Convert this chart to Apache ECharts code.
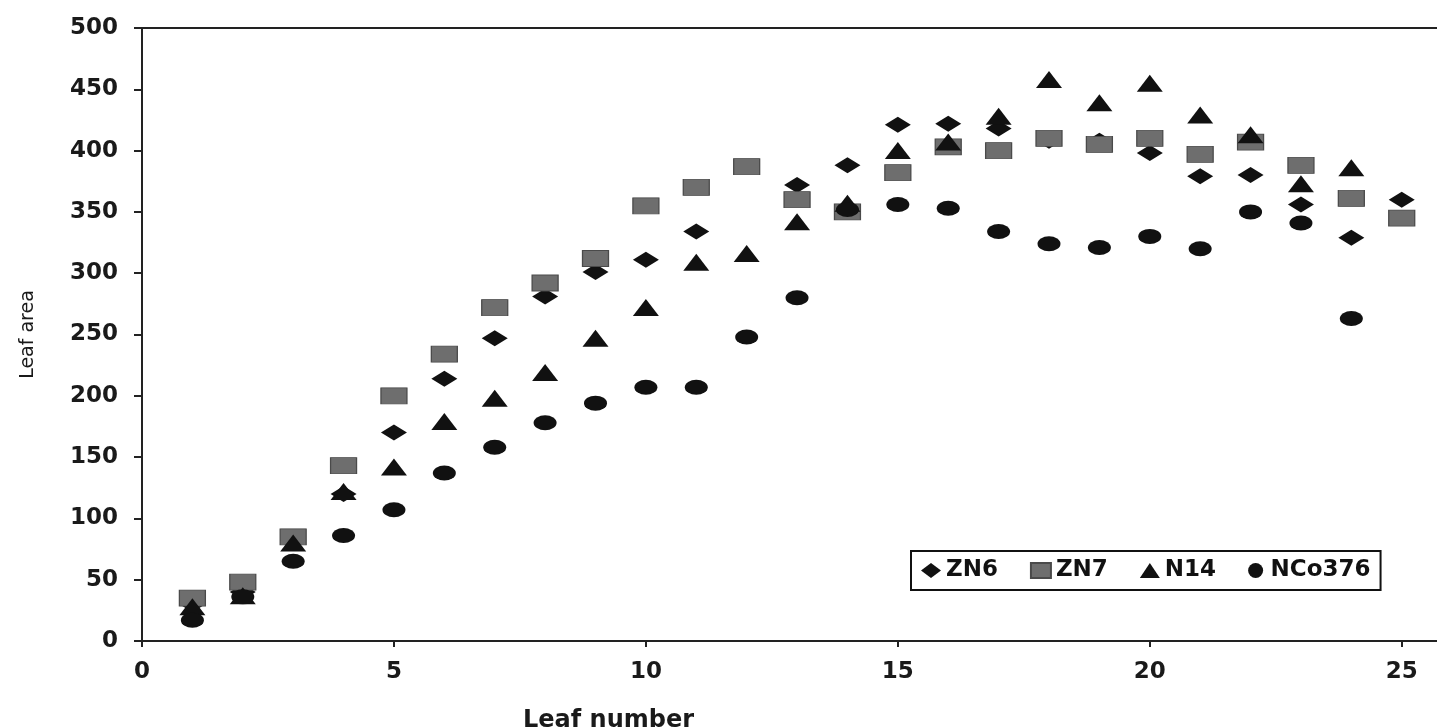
<!DOCTYPE html>
<html>
<head>
<meta charset="utf-8">
<script src="https://cdn.jsdelivr.net/npm/echarts@6/dist/echarts.min.js"></script>
<style>
  html, body { margin: 0; padding: 0; background: #fff; }
  #chart { width: 1437px; height: 727px; }
</style>
</head>
<body>
<div id="chart"></div>
<script>
// leaf number 1..25
const leafNumbers = [1, 2, 3, 4, 5, 6, 7, 8, 9, 10, 11, 12, 13, 14, 15, 16, 17, 18, 19, 20, 21, 22, 23, 24, 25];
const zn6 = [30, 40, 82, 120, 170, 214, 247, 281, 301, 311, 334, null, 372, 388, 421, 422, 418, 408, 408, 398, 379, 380, 356, 329, 360];
const zn7 = [35, 48, 85, 143, 200, 234, 272, 292, 312, 355, 370, 387, 360, 350, 382, 403, 400, 410, 405, 410, 397, 407, 388, 361, 345];
const n14 = [28, 37, 80, 122, 142, 179, 198, 219, 247, 272, 309, 316, 342, 357, 400, 407, 428, 458, 439, 455, 429, 413, 373, 386, null];
const nco376 = [17, 36, 65, 86, 107, 137, 158, 178, 194, 207, 207, 248, 280, 352, 356, 353, 334, 324, 321, 330, 320, 350, 341, 263, null];
const xTicks = [0, 5, 10, 15, 20, 25];

const pairs = (ys) => leafNumbers.map((x, i) => [x, ys[i]]).filter((p) => p[1] != null);

const chart = echarts.init(document.getElementById('chart'));
const axisFont = { fontFamily: 'DejaVu Sans', fontWeight: 'bold', fontSize: 23, color: '#1a1a1a' };
const lineStyle = { color: '#222', width: 2 };

const option = {
  backgroundColor: '#fff',
  animation: false,
  grid: { left: 142, right: 0, top: 28, bottom: 86, outerBoundsMode: 'none', containLabel: false },
  legend: {
    left: 911,
    top: 551,
    orient: 'horizontal',
    borderColor: '#111',
    borderWidth: 2,
    borderRadius: 0,
    padding: [8, 10],
    itemGap: 32,
    itemWidth: 20,
    itemHeight: 15,
    textStyle: { fontFamily: 'DejaVu Sans', fontWeight: 'bold', fontSize: 23, color: '#111' },
    data: [
      { name: 'ZN6', icon: 'diamond' },
      { name: 'ZN7', icon: 'rect' },
      { name: 'N14', icon: 'triangle' },
      { name: 'NCo376', icon: 'circle' },
    ],
  },
  xAxis: [
    {
      type: 'value',
      min: 0,
      max: 25.7,
      interval: 5,
      name: 'Leaf number',
      nameLocation: 'middle',
      nameGap: 68,
      nameTextStyle: { ...axisFont, fontSize: 24, padding: [0, 362, 0, 0] },
      axisLine: { show: true, lineStyle },
      axisTick: { show: true, length: 6, lineStyle, customValues: xTicks },
      axisLabel: { ...axisFont, margin: 20, customValues: xTicks },
      splitLine: { show: false },
    },
    {
      type: 'value',
      position: 'top',
      min: 0,
      max: 25.7,
      axisLine: { show: true, onZero: false, lineStyle },
      axisTick: { show: false },
      axisLabel: { show: false },
      splitLine: { show: false },
    },
  ],
  yAxis: {
    type: 'value',
    min: 0,
    max: 500,
    interval: 50,
    name: 'Leaf area',
    nameLocation: 'middle',
    nameGap: 104,
    nameTextStyle: { fontFamily: 'DejaVu Sans', fontSize: 19, color: '#1a1a1a' },
    axisLine: { show: true, lineStyle },
    axisTick: { show: true, length: 8, lineStyle },
    axisLabel: { ...axisFont, margin: 24 },
    splitLine: { show: false },
  },
  series: [
    {
      name: 'ZN6',
      type: 'scatter',
      symbol: 'diamond',
      symbolSize: [26, 16],
      itemStyle: { color: '#111', opacity: 1 },
      data: pairs(zn6),
    },
    {
      name: 'ZN7',
      type: 'scatter',
      symbol: 'rect',
      symbolSize: [26, 16],
      itemStyle: { color: '#6e6e6e', borderColor: '#4a4a4a', borderWidth: 1, opacity: 1 },
      data: pairs(zn7),
    },
    {
      name: 'N14',
      type: 'scatter',
      symbol: 'triangle',
      symbolSize: [26, 17],
      itemStyle: { color: '#111', opacity: 1 },
      data: pairs(n14),
    },
    {
      name: 'NCo376',
      type: 'scatter',
      symbol: 'circle',
      symbolSize: [23, 15],
      itemStyle: { color: '#111', opacity: 1 },
      data: pairs(nco376),
    },
  ],
};
chart.setOption(option);
</script>
</body>
</html>
